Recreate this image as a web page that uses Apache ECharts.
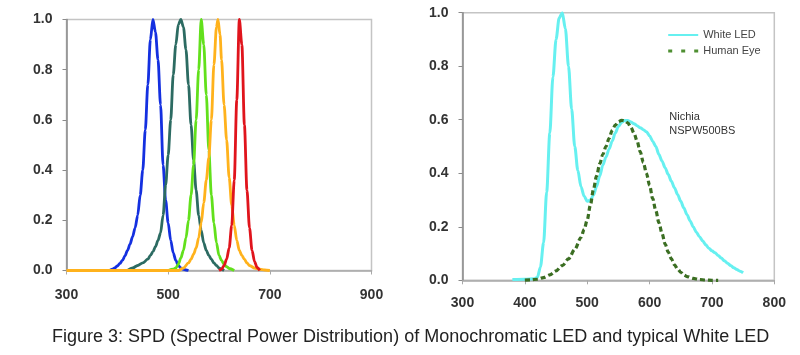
<!DOCTYPE html>
<html>
<head>
<meta charset="utf-8">
<script src="https://cdn.jsdelivr.net/npm/echarts@6/dist/echarts.min.js"></script>
<style>
html,body{margin:0;padding:0;background:#fff;}
#c{width:800px;height:355px;}
</style>
</head>
<body>
<div id="c"></div>
<script>
// ---- Left chart: monochromatic LEDs ----
const leftXTicks = [300, 500, 700, 900];
const yTicks = [0.0, 0.2, 0.4, 0.6, 0.8, 1.0];

const blueNm  = [385,390,395,400,405,410,415,420,425,430,435,440,445,450,455,460,465,470,475,480,485,490,495,500,505,510,515,520,525,530,535,540];
const blueVal = [0,0.005,0.01,0.018,0.028,0.04,0.058,0.08,0.105,0.135,0.17,0.22,0.3,0.4,0.56,0.74,0.92,1.0,0.95,0.84,0.66,0.42,0.28,0.19,0.12,0.07,0.04,0.02,0.01,0.005,0.002,0];

const tealNm  = [420,430,440,450,460,465,470,475,480,485,490,495,500,505,510,515,520,525,530,535,540,545,550,555,560,565,570,575,580,585,590,595,600,605,610];
const tealVal = [0,0.01,0.02,0.03,0.045,0.06,0.075,0.095,0.12,0.15,0.22,0.34,0.46,0.6,0.78,0.9,0.98,1.0,0.97,0.88,0.74,0.58,0.44,0.32,0.22,0.16,0.11,0.08,0.06,0.045,0.03,0.02,0.01,0.005,0];

const greenNm  = [500,510,515,520,525,530,535,540,545,550,555,560,565,570,575,580,585,590,595,600,605,610,615,620,630];
const greenVal = [0,0.005,0.01,0.025,0.05,0.08,0.13,0.2,0.3,0.42,0.6,0.8,1.0,0.9,0.7,0.48,0.3,0.19,0.11,0.06,0.04,0.025,0.015,0.008,0];

const orangeNm  = [300,520,530,540,545,550,555,560,565,570,575,580,585,590,595,598,602,605,610,615,620,625,630,635,640,645,650,655,660,670,680,690,700];
const orangeVal = [0,0,0.01,0.03,0.045,0.065,0.09,0.13,0.19,0.27,0.36,0.45,0.6,0.82,0.97,1.0,0.94,0.84,0.66,0.52,0.37,0.26,0.18,0.12,0.08,0.06,0.045,0.03,0.02,0.01,0.005,0.002,0];

const redNm  = [600,605,610,615,620,625,630,635,640,645,650,655,660,665,670,675,680];
const redVal = [0,0.005,0.02,0.045,0.09,0.18,0.36,0.68,1.0,0.9,0.58,0.32,0.17,0.08,0.035,0.012,0];

// ---- Right chart: white LED vs human eye ----
const rightXTicks = [300, 400, 500, 600, 700, 800];

const whiteNm  = [380,400,415,420,425,430,435,440,445,450,455,460,465,470,475,480,485,490,495,500,505,510,515,520,525,530,535,540,545,550,555,560,565,570,575,580,585,590,595,600,605,610,615,620,625,630,635,640,645,650,655,660,665,670,675,680,685,690,695,700,705,710,715,720,725,730,735,740,745,750];
const whiteVal = [0.003,0.004,0.006,0.01,0.05,0.14,0.33,0.55,0.76,0.9,0.98,1.0,0.94,0.8,0.64,0.5,0.41,0.35,0.315,0.295,0.3,0.318,0.35,0.39,0.43,0.46,0.49,0.52,0.55,0.575,0.59,0.597,0.597,0.592,0.585,0.578,0.57,0.563,0.555,0.54,0.52,0.5,0.47,0.445,0.42,0.395,0.37,0.345,0.32,0.295,0.27,0.245,0.222,0.2,0.18,0.163,0.148,0.133,0.12,0.11,0.103,0.093,0.083,0.073,0.064,0.055,0.047,0.04,0.034,0.028];

const eyeNm  = [400,410,420,430,440,450,460,470,480,490,495,500,505,510,515,520,525,530,535,540,545,550,555,560,565,570,575,580,585,590,595,600,605,610,615,620,625,630,635,640,645,650,655,660,670,680,690,700,710];
const eyeVal = [0.001,0.002,0.004,0.01,0.02,0.035,0.055,0.08,0.115,0.16,0.19,0.225,0.28,0.34,0.39,0.435,0.47,0.5,0.53,0.56,0.58,0.592,0.598,0.596,0.588,0.572,0.55,0.52,0.48,0.44,0.4,0.355,0.305,0.26,0.215,0.175,0.135,0.105,0.08,0.058,0.042,0.03,0.02,0.014,0.007,0.003,0.001,0,0];

const annotationLines = ['Nichia', 'NSPW500BS'];
const captionText = 'Figure 3: SPD (Spectral Power Distribution) of Monochromatic LED and typical White LED';

const FONT = "'Liberation Sans', Arial, sans-serif";
const zip = (xs, ys) => xs.map((x, i) => [x, ys[i]]);

function xAxisCfg(gridIndex, ticks) {
  return {
    type: 'value', gridIndex,
    min: ticks[0], max: ticks[ticks.length - 1], interval: ticks[1] - ticks[0],
    axisLine: { show: true, lineStyle: { color: '#a8a8a8', width: 1.5 } },
    axisTick: { show: true, length: 4, lineStyle: { color: '#a8a8a8', width: 1 } },
    axisLabel: { color: '#333', fontFamily: FONT, fontSize: 14, fontWeight: 'bold', margin: gridIndex === 0 ? 18 : 16 },
    splitLine: { show: false }
  };
}
function yAxisCfg(gridIndex) {
  return {
    type: 'value', gridIndex,
    min: yTicks[0], max: yTicks[yTicks.length - 1], interval: 0.2,
    axisLine: { show: true, lineStyle: { color: '#8a8a8a', width: 1.5 } },
    axisTick: { show: true, length: 4, lineStyle: { color: '#8a8a8a', width: 1 } },
    axisLabel: { color: '#333', fontFamily: FONT, fontSize: 14, fontWeight: 'bold', margin: 14,
      formatter: v => v.toFixed(1) },
    splitLine: { show: false }
  };
}
function lineSeries(name, xs, ys, color, gi, extra) {
  return Object.assign({
    name, type: 'line', xAxisIndex: gi, yAxisIndex: gi,
    data: zip(xs, ys), symbol: 'none', smooth: 0.3, smoothMonotone: 'x',
    lineStyle: { color, width: 2.8 }, itemStyle: { color },
    animation: false
  }, extra || {});
}

const chart = echarts.init(document.getElementById('c'), null, { renderer: 'canvas' });
chart.setOption({
  animation: false,
  backgroundColor: '#fff',
  grid: [
    { left: 66.5, right: 428.5, top: 19.5, bottom: 84.5, show: true, borderColor: '#c4c4c4', borderWidth: 1.5 },
    { left: 462.5, right: 25.7, top: 12.7, bottom: 74.7, show: true, borderColor: '#c4c4c4', borderWidth: 1.5 }
  ],
  xAxis: [xAxisCfg(0, leftXTicks), xAxisCfg(1, rightXTicks)],
  yAxis: [yAxisCfg(0), yAxisCfg(1)],
  legend: {
    show: true, orient: 'vertical', left: 666.7, top: 29.5, padding: 0,
    itemWidth: 30, itemHeight: 10, itemGap: 5,
    itemStyle: { opacity: 0 },
    textStyle: { color: '#444', fontFamily: FONT, fontSize: 11 },
    data: [
      { name: 'White LED' },
      { name: 'Human Eye', lineStyle: { type: [4, 9], color: '#4f8f32', width: 3 } }
    ]
  },
  series: [
    lineSeries('Blue', blueNm, blueVal, '#1430e0', 0),
    lineSeries('Teal', tealNm, tealVal, '#2c6b62', 0),
    lineSeries('Green', greenNm, greenVal, '#62e01c', 0),
    lineSeries('Amber', orangeNm, orangeVal, '#ffb21c', 0),
    lineSeries('Red', redNm, redVal, '#e0141c', 0),
    lineSeries('White LED', whiteNm, whiteVal, '#66f0f0', 1, { lineStyle: { color: '#66f0f0', width: 3 } }),
    lineSeries('Human Eye', eyeNm, eyeVal, '#3b6e22', 1, { lineStyle: { color: '#3b6e22', width: 3.2, type: [5, 3] } })
  ],
  graphic: [
    { type: 'text', left: 669.3, top: 110, style: { text: annotationLines.join('\n'), fill: '#333', font: '11px ' + FONT, lineHeight: 14 } },
    { type: 'text', x: 52, y: 337.4, style: { text: captionText, fill: '#222', font: '18px ' + FONT, verticalAlign: 'middle' } }
  ]
});
</script>
</body>
</html>
